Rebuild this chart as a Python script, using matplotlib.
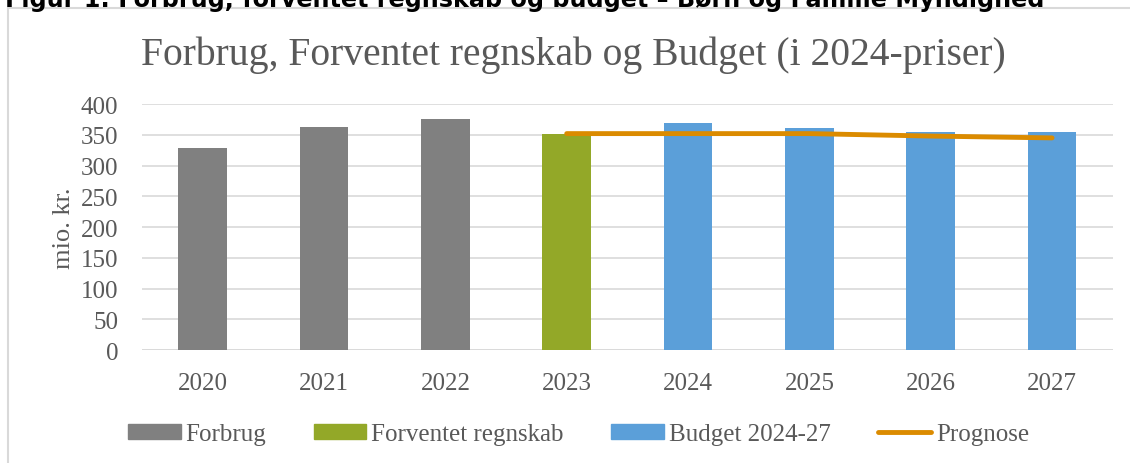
import matplotlib.pyplot as plt
from matplotlib.patches import Rectangle
from matplotlib.lines import Line2D

years = ['2020', '2021', '2022', '2023', '2024', '2025', '2026', '2027']
forbrug = [328, 363, 376]
forventet = [351]
budget = [370, 361, 354, 354]
prognose = [352, 352, 352, 348, 345]

GREY = '#808080'
GREEN = '#93A828'
BLUE = '#5B9FD9'
ORANGE = '#DB8B00'
TEXT = '#595959'
SERIF = ['Liberation Serif', 'DejaVu Serif']

fig = plt.figure(figsize=(11.3, 4.64), dpi=100)
ax = fig.add_axes([0.1257, 0.2435, 0.859, 0.530])

x = list(range(len(years)))
w = 0.4
ax.bar(x[0:3], forbrug, w, color=GREY, zorder=3)
ax.bar(x[3:4], forventet, w, color=GREEN, zorder=3)
ax.bar(x[4:8], budget, w, color=BLUE, zorder=3)
ax.plot(x[3:8], prognose, color=ORANGE, lw=3.5, solid_capstyle='round', zorder=4)

ax.set_xlim(-0.5, len(years) - 0.5)
ax.set_ylim(0, 400)
ax.set_yticks(range(0, 401, 50))
ax.set_xticks(x)
ax.set_xticklabels(years)
ax.grid(axis='y', color='#D9D9D9', lw=1.2, zorder=0)
for s in ax.spines.values():
    s.set_visible(False)
ax.axhline(0, color='#D9D9D9', lw=1.2, zorder=2)
ax.tick_params(length=0, labelsize=18, labelcolor=TEXT)
ax.tick_params(axis='x', pad=16)
ax.tick_params(axis='y', pad=17)
for lab in ax.get_xticklabels() + ax.get_yticklabels():
    lab.set_family(SERIF)
ax.set_ylabel('mio. kr.', fontsize=19, color=TEXT, family=SERIF, labelpad=4)

fig.text(0.507, 0.881, 'Forbrug, Forventet regnskab og Budget (i 2024-priser)',
         ha='center', va='center', fontsize=28.5, color=TEXT, family=SERIF)

handles = [Rectangle((0, 0), 1, 1, color=GREY),
           Rectangle((0, 0), 1, 1, color=GREEN),
           Rectangle((0, 0), 1, 1, color=BLUE),
           Line2D([], [], color=ORANGE, lw=3.5, solid_capstyle='round')]
labels = ['Forbrug', 'Forventet regnskab', 'Budget 2024-27', 'Prognose']
fig.legend(handles, labels, loc='center', bbox_to_anchor=(0.512, 0.062), ncol=4,
           frameon=False, prop={'family': SERIF, 'size': 18},
           labelcolor=TEXT, handlelength=2.1, handleheight=0.52,
           handletextpad=0.2, columnspacing=1.9)

# chart border
fig.add_artist(Rectangle((8 / 1130, -0.1), 1.2, 1 - 9 / 464 + 0.1,
                         transform=fig.transFigure, fill=False,
                         edgecolor='#D9D9D9', lw=1.5))

fig.text(5 / 1130, 1 - 7 / 464,
         'Figur 1: Forbrug, forventet regnskab og budget \u2013 B\u00f8rn og Familie Myndighed',
         ha='left', va='baseline', fontsize=17.2, fontweight='bold', color='black',
         family='DejaVu Sans')

fig.savefig('out.png', dpi=100)
